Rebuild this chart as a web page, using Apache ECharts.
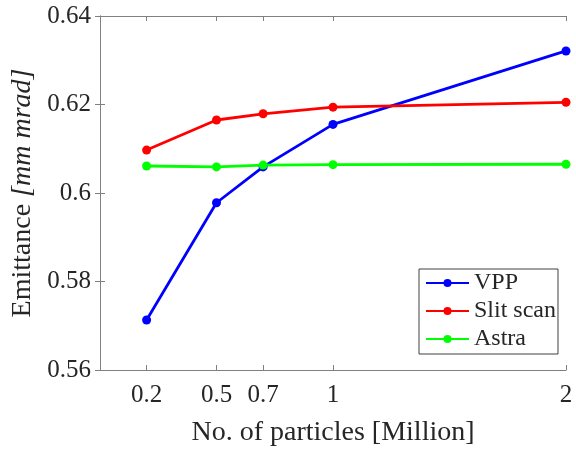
<!DOCTYPE html>
<html><head><meta charset="utf-8">
<script src="https://cdn.jsdelivr.net/npm/echarts@6/dist/echarts.min.js"></script>
<style>html,body{margin:0;padding:0;background:#fff}#c{width:576px;height:451px}</style>
</head><body><div id="c"></div>
<script>
const particles = [0.2, 0.5, 0.7, 1, 2];
const vpp = [0.5713, 0.5978, 0.6059, 0.6155, 0.6321];
const slitScan = [0.6097, 0.6165, 0.6179, 0.6194, 0.6205];
const astra = [0.6061, 0.6059, 0.6063, 0.6064, 0.6065];
const yTicks = [0.56, 0.58, 0.6, 0.62, 0.64];

const font = 'Liberation Serif';
const txt = '#262626';
const axisCol = '#808080';
const pair = (ys) => particles.map((x, i) => [x, ys[i]]);
const mk = (name, color, ys) => ({
  name, type: 'line', data: pair(ys), color,
  symbol: 'circle', symbolSize: 9,
  lineStyle: { width: 2.8, color }, itemStyle: { color },
  emphasis: { disabled: true }
});
const chart = echarts.init(document.getElementById('c'), null, { renderer: 'canvas' });
const xBase = {
  type: 'value', min: 0, max: 2,
  axisLine: { show: true, lineStyle: { color: axisCol, width: 1 } },
  axisTick: { show: true, inside: true, length: 5, lineStyle: { color: axisCol }, customValues: particles },
  splitLine: { show: false }
};
const yBase = {
  type: 'value', min: 0.56, max: 0.64, interval: 0.02,
  axisLine: { show: true, lineStyle: { color: axisCol, width: 1 } },
  axisTick: { show: true, inside: true, length: 5, lineStyle: { color: axisCol } },
  splitLine: { show: false }
};
chart.setOption({
  animation: false,
  backgroundColor: '#fff',
  grid: { left: 100, right: 10, top: 16, bottom: 81, containLabel: false, outerBoundsMode: 'none' },
  xAxis: [
    Object.assign({}, xBase, {
      position: 'bottom',
      name: 'No. of particles [Million]', nameLocation: 'middle', nameGap: 49,
      nameTextStyle: { fontFamily: font, fontSize: 28, color: txt },
      axisLabel: { show: true, customValues: particles, margin: 13, fontFamily: font, fontSize: 25, color: txt,
        formatter: v => String(v) }
    }),
    Object.assign({}, xBase, { position: 'top', axisLabel: { show: false } })
  ],
  yAxis: [
    Object.assign({}, yBase, {
      position: 'left',
      name: '{n|Emittance }{i|[mm mrad]}', nameLocation: 'middle', nameGap: 58,
      nameTextStyle: { fontFamily: font, fontSize: 28, color: txt,
        rich: { n: { fontFamily: font, fontSize: 28, color: txt }, i: { fontFamily: font, fontSize: 28, color: txt, fontStyle: 'italic' } } },
      axisLabel: { margin: 9, fontFamily: font, fontSize: 25, color: txt,
        formatter: v => String(+v.toFixed(2)) }
    }),
    Object.assign({}, yBase, { position: 'right', axisLabel: { show: false } })
  ],
  legend: {
    orient: 'vertical', left: 419, top: 269,
    padding: [0, 2, 1, 6], itemGap: 0,
    itemWidth: 43, itemHeight: 10,
    backgroundColor: '#fff', borderColor: '#404040', borderWidth: 1, borderRadius: 0,
    textStyle: { fontFamily: font, fontSize: 24, color: txt, lineHeight: 28, height: 28 },
    data: ['VPP', 'Slit scan', 'Astra']
  },
  series: [
    mk('VPP', '#0000ff', vpp),
    mk('Slit scan', '#ff0000', slitScan),
    mk('Astra', '#00ff00', astra)
  ]
});
</script></body></html>
